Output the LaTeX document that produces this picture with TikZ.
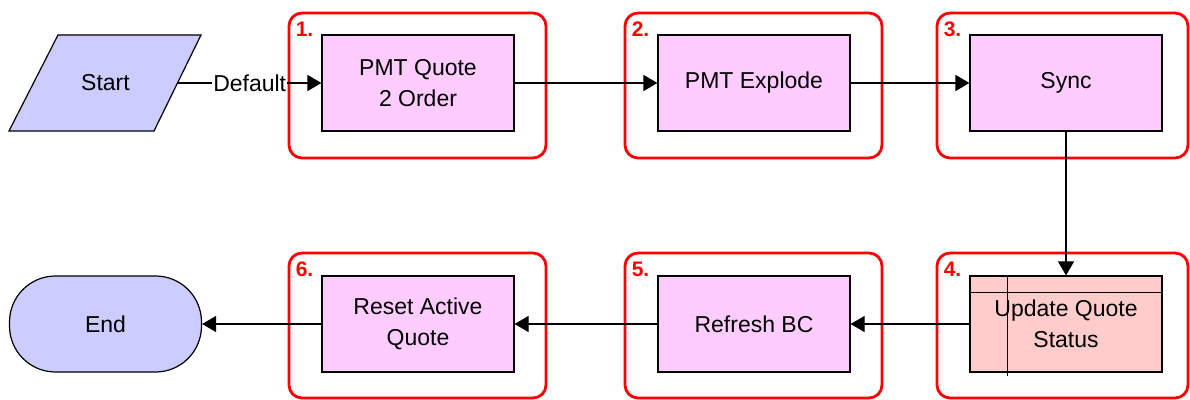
\documentclass[tikz,border=0pt]{standalone}
\usepackage{fontspec}
\setmainfont{Liberation Sans}
\usetikzlibrary{arrows.meta}
\definecolor{stepfill}{HTML}{FFCCFF}
\definecolor{updfill}{HTML}{FFCCCC}
\definecolor{termfill}{HTML}{CCCCFF}
\definecolor{grpred}{HTML}{FF0000}
\tikzset{
  lbl/.style={font=\fontsize{23}{31}\selectfont, text=black},
  stepbox/.style={lbl, draw=black, line width=1.2pt, fill=stepfill, minimum width=192pt, minimum height=96pt, align=center, inner sep=0pt},
  updbox/.style={stepbox, fill=updfill},
  termbox/.style={lbl, draw=black, line width=1.2pt, fill=termfill, minimum width=192pt, minimum height=96pt, inner sep=0pt},
  grpbox/.style={draw=grpred, line width=2.8pt, rounded corners=13pt, minimum width=257pt, minimum height=145pt},
  grpnum/.style={font=\bfseries\fontsize{21}{23}\selectfont, text=grpred, inner sep=0pt, anchor=north west},
  flow/.style={draw=black, line width=1.2pt, -{Triangle[length=14pt, width=16pt]}}
}

\begin{document}
\begin{tikzpicture}[x=1pt,y=1pt]
\useasboundingbox (0,0) rectangle (1190,399);

% red group frames
\node[grpbox] (g1) at (417.5,313.5) {};
\node[grpbox] (g2) at (753.5,313.5) {};
\node[grpbox, minimum width=251pt] (g3) at (1062.5,313.5) {};
\node[grpbox, minimum width=251pt] (g4) at (1062.5,73.5) {};
\node[grpbox] (g5) at (753.5,73.5) {};
\node[grpbox] (g6) at (417.5,73.5) {};
\foreach \k in {1,...,6}
  \node[grpnum] (n\k) at ([xshift=8pt,yshift=-10pt]g\k.north west) {\k.};

% start (parallelogram) and end
\coordinate (startc) at (105.5,316);
\filldraw[draw=black, line width=1.2pt, fill=termfill]
  ([shift={(-47.5,48)}]startc) -- ([shift={(95.5,48)}]startc) --
  ([shift={(48.5,-48)}]startc) -- ([shift={(-96.5,-48)}]startc) -- cycle;
\node[lbl] (start) at (startc) {Start};
\coordinate (starte) at ([xshift=72.5]startc);
\node[termbox, rounded corners=46pt] (endn) at (105.5,75) {End};

% steps
\node[stepbox] (q2o) at (418,316) {PMT Quote\\2 Order};
\node[stepbox] (expl) at (754,316) {PMT Explode};
\node[stepbox] (sync) at (1066,316) {Sync};
\node[updbox] (upd) at (1066,75) {Update Quote\\Status};
\node[stepbox] (refr) at (754,75) {Refresh BC};
\node[stepbox] (reset) at (418,75) {Reset Active\\Quote};

\draw[line width=1.2pt] ([yshift=-17pt]upd.north west) -- ([yshift=-17pt]upd.north east);
\draw[line width=1.2pt] ([xshift=38pt]upd.north west) -- ([xshift=38pt,yshift=-3pt]upd.south west);

% connectors
\draw[flow] (starte) -- node[lbl, fill=white, inner sep=1pt] {Default} (q2o.west);
\draw[flow] (q2o) -- (expl);
\draw[flow] (expl) -- (sync);
\draw[flow] (sync) -- (upd);
\draw[flow] (upd) -- (refr);
\draw[flow] (refr) -- (reset);
\draw[flow] (reset) -- (endn);

\end{tikzpicture}
\end{document}
